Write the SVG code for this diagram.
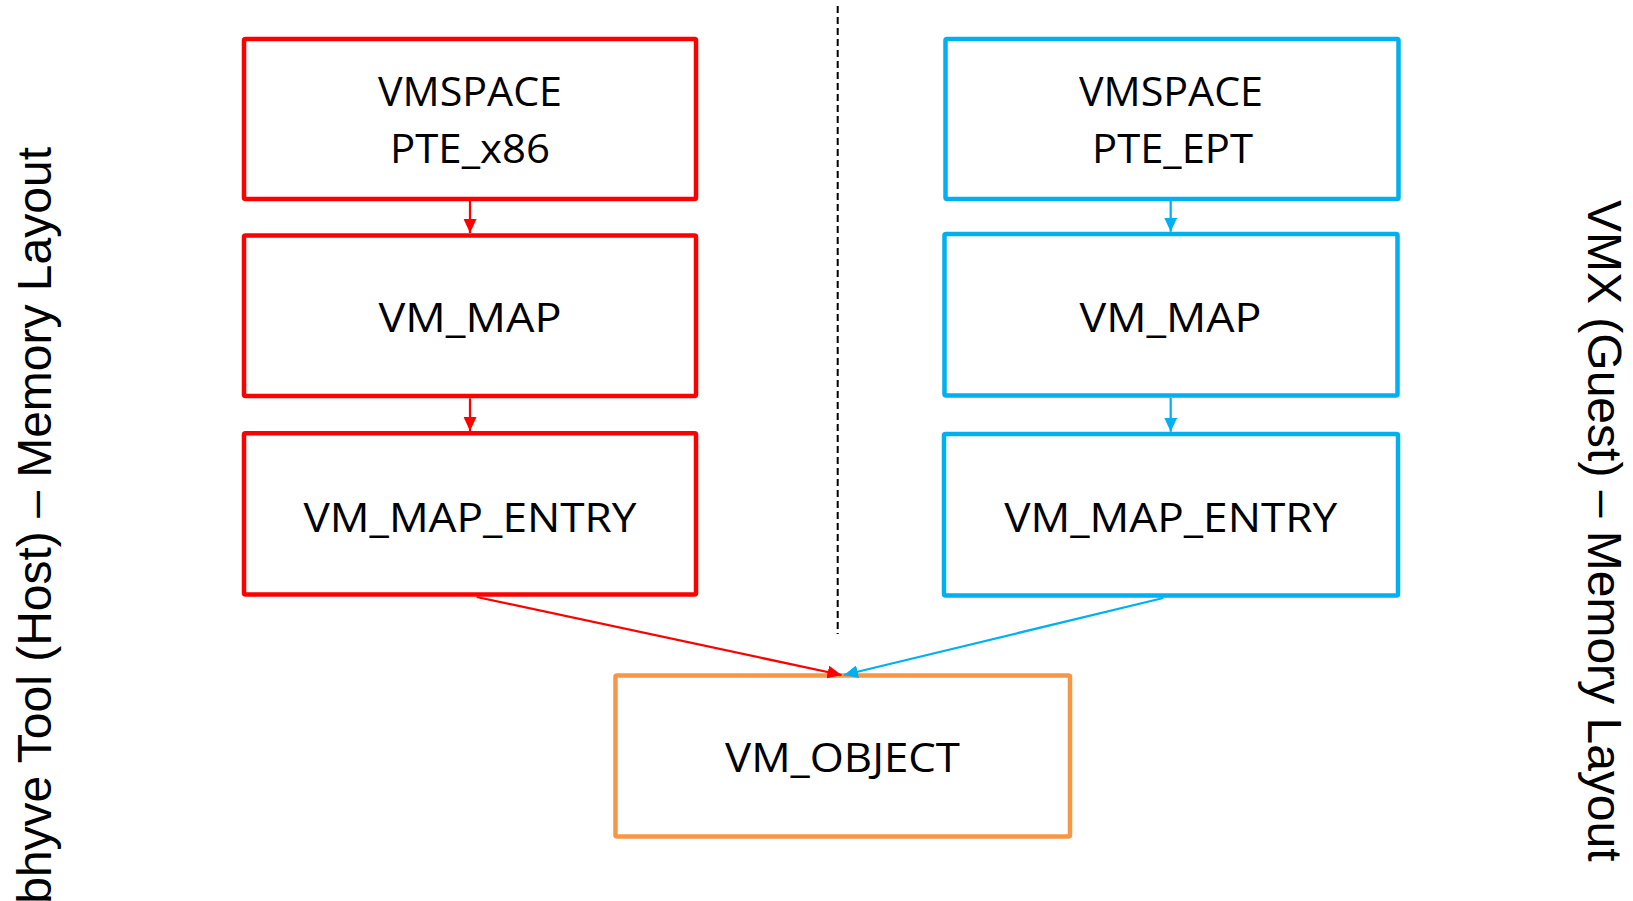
<svg xmlns="http://www.w3.org/2000/svg" width="1633" height="901" viewBox="0 0 1633 901">
  <style>
    .box { fill: #FFFFFF; stroke-width: 4.5; }
    .host { stroke: #FF0000; }
    .guest { stroke: #00B0F0; }
    .shared { stroke: #F79646; }
    .lbl { font-family: "Open Sans", "Liberation Sans", sans-serif; font-size: 41px; fill: #000000; text-anchor: middle; }
    .side { font-family: "Liberation Sans", Arial, sans-serif; font-size: 48px; fill: #000000; }
    .link { fill: none; stroke-width: 2.25; }
  </style>
  <defs>
    <marker id="headRed" viewBox="0 0 14 13" refX="14" refY="6.5" markerWidth="14" markerHeight="13" markerUnits="userSpaceOnUse" orient="auto">
      <path d="M0,0 L14,6.5 L0,13 z" fill="#FF0000"/>
    </marker>
    <marker id="headBlue" viewBox="0 0 14 13" refX="14" refY="6.5" markerWidth="14" markerHeight="13" markerUnits="userSpaceOnUse" orient="auto">
      <path d="M0,0 L14,6.5 L0,13 z" fill="#00B0F0"/>
    </marker>
  </defs>
  <rect width="1633" height="901" fill="#FFFFFF"/>

  <!-- side titles -->
  <text id="title-host" class="side" text-anchor="end" transform="translate(51,147) rotate(-90)">bhyve Tool (Host) – Memory Layout</text>
  <text id="title-guest" class="side" text-anchor="start" transform="translate(1588,200) rotate(90)">VMX (Guest) – Memory Layout</text>

  <!-- divider between host and guest -->
  <line id="divider" x1="837.7" y1="6" x2="837.7" y2="634" stroke="#000000" stroke-width="2" stroke-dasharray="7 4"/>

  <!-- host column -->
  <g id="host-vmspace">
    <rect class="box host" x="244" y="39" width="452" height="160" rx="1.5"/>
    <text class="lbl" x="470" y="106" textLength="184" lengthAdjust="spacingAndGlyphs">VMSPACE</text>
    <text class="lbl" x="470" y="162.7" textLength="160" lengthAdjust="spacingAndGlyphs">PTE_x86</text>
  </g>
  <g id="host-vm-map">
    <rect class="box host" x="244" y="235.5" width="452" height="160.5" rx="1.5"/>
    <text class="lbl" x="470" y="331.7" textLength="183" lengthAdjust="spacingAndGlyphs">VM_MAP</text>
  </g>
  <g id="host-vm-map-entry">
    <rect class="box host" x="244" y="433.2" width="452" height="161.3" rx="1.5"/>
    <text class="lbl" x="470" y="531.7" textLength="333" lengthAdjust="spacingAndGlyphs">VM_MAP_ENTRY</text>
  </g>

  <!-- guest column -->
  <g id="guest-vmspace">
    <rect class="box guest" x="945.5" y="39" width="453" height="160" rx="1.5"/>
    <text class="lbl" x="1171" y="106" textLength="184" lengthAdjust="spacingAndGlyphs">VMSPACE</text>
    <text class="lbl" x="1172.5" y="162.7" textLength="161" lengthAdjust="spacingAndGlyphs">PTE_EPT</text>
  </g>
  <g id="guest-vm-map">
    <rect class="box guest" x="944.5" y="234" width="453" height="161.5" rx="1.5"/>
    <text class="lbl" x="1170.5" y="331.7" textLength="182" lengthAdjust="spacingAndGlyphs">VM_MAP</text>
  </g>
  <g id="guest-vm-map-entry">
    <rect class="box guest" x="944" y="434" width="454" height="161.5" rx="1.5"/>
    <text class="lbl" x="1170.7" y="531.7" textLength="333" lengthAdjust="spacingAndGlyphs">VM_MAP_ENTRY</text>
  </g>

  <!-- shared backing object -->
  <g id="vm-object">
    <rect class="box shared" x="615.5" y="675.5" width="454.5" height="161" rx="1.5"/>
    <text class="lbl" x="842.5" y="771.7" textLength="235" lengthAdjust="spacingAndGlyphs">VM_OBJECT</text>
  </g>

  <!-- connectors -->
  <g id="connectors">
    <line class="link" stroke="#FF0000" x1="470" y1="201" x2="470" y2="233" marker-end="url(#headRed)"/>
    <line class="link" stroke="#FF0000" x1="470" y1="398.3" x2="470" y2="431" marker-end="url(#headRed)"/>
    <line class="link" stroke="#FF0000" x1="476.7" y1="597" x2="841.5" y2="675" marker-end="url(#headRed)"/>
    <line class="link" stroke="#00B0F0" x1="1170.7" y1="201" x2="1170.7" y2="231.7" marker-end="url(#headBlue)"/>
    <line class="link" stroke="#00B0F0" x1="1170.7" y1="397.7" x2="1170.7" y2="431.7" marker-end="url(#headBlue)"/>
    <line class="link" stroke="#00B0F0" x1="1163.3" y1="598" x2="844" y2="675" marker-end="url(#headBlue)"/>
  </g>
</svg>
